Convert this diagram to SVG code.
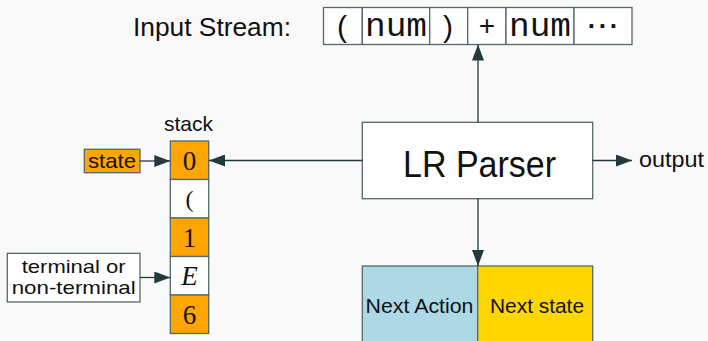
<svg xmlns="http://www.w3.org/2000/svg" width="708" height="341" viewBox="0 0 708 341">
<defs>
<marker id="ah" markerUnits="userSpaceOnUse" markerWidth="17" markerHeight="12" refX="16" refY="6" orient="auto">
<path d="M0,0 L16,6 L0,12 z" fill="#22393d"/>
</marker>
<style>
.box{stroke:#55676b;stroke-width:1.3}
.line{stroke:#22393d;stroke-width:1.3;fill:none}
.sans{font-family:"Liberation Sans",Arial,sans-serif;fill:#111}
.serif{font-family:"Liberation Serif","Times New Roman",serif;fill:#111}
.mono{font-family:"Liberation Mono","Courier New",monospace;fill:#111}
.or{fill:#FFA500}
.wh{fill:#FFFFFF}
</style>
</defs>
<rect width="708" height="341" fill="#F9F9F9"/>

<g id="input-label">
<text class="sans" x="133" y="36" font-size="26" textLength="158" lengthAdjust="spacingAndGlyphs">Input Stream:</text>
</g>

<g id="input-stream">
<rect class="box wh" x="323.5" y="7.5" width="38.8" height="37"/>
<rect class="box wh" x="362.3" y="7.5" width="67.4" height="37"/>
<rect class="box wh" x="429.7" y="7.5" width="38" height="37"/>
<rect class="box wh" x="467.7" y="7.5" width="38.3" height="37"/>
<rect class="box wh" x="506" y="7.5" width="68" height="37"/>
<rect class="box wh" x="574" y="7.5" width="58" height="37"/>
<text class="sans" x="342" y="37" font-size="30" text-anchor="middle">(</text>
<text class="mono" x="396" y="36" font-size="34" text-anchor="middle" textLength="62" lengthAdjust="spacingAndGlyphs">num</text>
<text class="sans" x="448" y="37" font-size="30" text-anchor="middle">)</text>
<text class="sans" x="487" y="35" font-size="28" text-anchor="middle">+</text>
<text class="mono" x="540" y="36" font-size="34" text-anchor="middle" textLength="62" lengthAdjust="spacingAndGlyphs">num</text>
<text class="sans" x="592 603 614" y="35" font-size="26" font-weight="bold" text-anchor="middle">···</text>
</g>

<g id="lr-parser">
<rect class="box wh" x="362.3" y="122.3" width="230.4" height="76.4"/>
<text class="sans" x="403" y="176.5" font-size="37" textLength="153" lengthAdjust="spacingAndGlyphs">LR Parser</text>
</g>

<g id="next-table">
<rect class="box" fill="#ADD8E6" x="362.3" y="266" width="115.4" height="90"/>
<rect class="box" fill="#FFD700" x="477.7" y="266" width="115" height="90"/>
<text class="sans" x="419.5" y="313" font-size="20.5" text-anchor="middle" textLength="108" lengthAdjust="spacingAndGlyphs">Next Action</text>
<text class="sans" x="537" y="313" font-size="20.5" text-anchor="middle" textLength="94" lengthAdjust="spacingAndGlyphs">Next state</text>
</g>

<g id="output">
<text class="sans" x="639" y="167" font-size="22" textLength="65" lengthAdjust="spacingAndGlyphs">output</text>
</g>

<g id="stack">
<text class="sans" x="188.5" y="131" font-size="21" text-anchor="middle">stack</text>
<rect class="box or" x="170.3" y="141" width="38.4" height="38.5"/>
<rect class="box wh" x="170.3" y="179.5" width="38.4" height="38.5"/>
<rect class="box or" x="170.3" y="218" width="38.4" height="38.5"/>
<rect class="box wh" x="170.3" y="256.5" width="38.4" height="38.5"/>
<rect class="box or" x="170.3" y="295" width="38.4" height="38.5"/>
<text class="serif" x="189.5" y="169.5" font-size="27" text-anchor="middle">0</text>
<text class="serif" x="189.5" y="207" font-size="24" text-anchor="middle">(</text>
<text class="serif" x="189.5" y="246.5" font-size="27" text-anchor="middle">1</text>
<text class="serif" x="189.5" y="285" font-size="27" font-style="italic" text-anchor="middle">E</text>
<text class="serif" x="189.5" y="323.5" font-size="27" text-anchor="middle">6</text>
</g>

<g id="state-label">
<rect class="box or" x="84.3" y="149.3" width="55.7" height="23.4"/>
<text class="sans" x="112" y="168" font-size="21" text-anchor="middle" textLength="48" lengthAdjust="spacingAndGlyphs">state</text>
</g>

<g id="terminal-label">
<rect class="box wh" x="7.3" y="253.3" width="132.7" height="48.7"/>
<text class="sans" x="73.7" y="273" font-size="18.5" text-anchor="middle" textLength="104" lengthAdjust="spacingAndGlyphs">terminal or</text>
<text class="sans" x="73.7" y="294" font-size="18.5" text-anchor="middle" textLength="124" lengthAdjust="spacingAndGlyphs">non-terminal</text>
</g>

<g id="connectors">
<line class="line" x1="478" y1="122.3" x2="478" y2="44.5" marker-end="url(#ah)"/>
<line class="line" x1="478" y1="198.7" x2="478" y2="266" marker-end="url(#ah)"/>
<line class="line" x1="362.3" y1="160.5" x2="209" y2="160.5" marker-end="url(#ah)"/>
<line class="line" x1="592.7" y1="160.5" x2="632" y2="160.5" marker-end="url(#ah)"/>
<line class="line" x1="140" y1="161" x2="170.3" y2="161" marker-end="url(#ah)"/>
<line class="line" x1="140" y1="277.5" x2="170.3" y2="277.5" marker-end="url(#ah)"/>
</g>
</svg>
